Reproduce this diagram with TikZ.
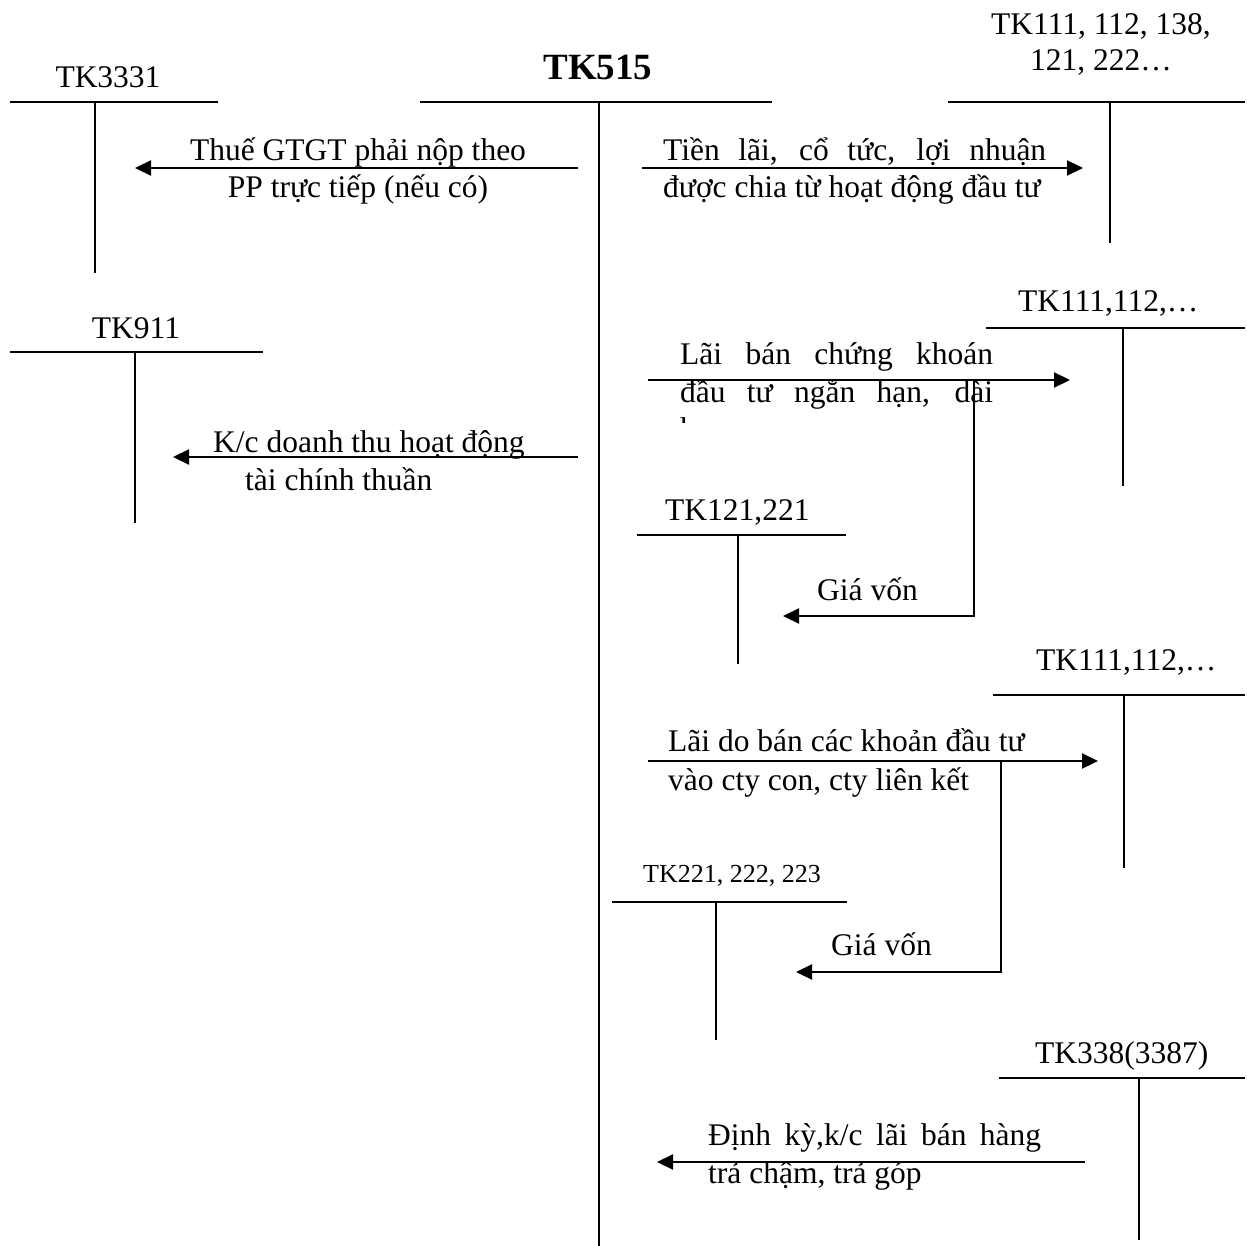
\documentclass[tikz,border=0pt]{standalone}
\usepackage{fontspec}
\setmainfont{Liberation Serif}
\usetikzlibrary{arrows.meta}
\tikzset{
  lbl/.style={inner sep=0pt, anchor=base, font=\fontsize{31.5}{36}\selectfont},
  lblw/.style={inner sep=0pt, anchor=base west, font=\fontsize{31.5}{36}\selectfont},
  small/.style={inner sep=0pt, anchor=base west, font=\fontsize{26}{30}\selectfont},
  tline/.style={line width=1.6pt},
  fline/.style={line width=2.2pt},
  flow/.style={line width=2.2pt, -{Triangle[length=16pt,width=15pt]}}
}
\begin{document}
\begin{tikzpicture}[x=1pt,y=-1pt]
\useasboundingbox[fill=white] (0,0) rectangle (1247,1246);

% ---- TK3331
\node[lbl] (n3331) at (108,88) {TK3331};
\coordinate (a3331L) at (10,102); \coordinate (a3331R) at (218,102);
\coordinate (a3331T) at (95,102); \coordinate (a3331B) at (95,273);
\draw[tline] (a3331L) -- (a3331R); \draw[tline] (a3331T) -- (a3331B);

% ---- TK515
\node[inner sep=0pt, anchor=base, font=\bfseries\fontsize{37}{40}\selectfont] (n515) at (598,80) {TK515};
\coordinate (a515L) at (420,102); \coordinate (a515R) at (772,102);
\coordinate (a515T) at (599,102); \coordinate (a515B) at (599,1246);
\draw[tline] (a515L) -- (a515R); \draw[tline] (a515T) -- (a515B);

% ---- TK111, 112, 138, 121, 222...
\node[lbl] (n111a) at (1101,35) {TK111, 112, 138,};
\node[lbl] (n111b) at (1101,71) {121, 222…};
\coordinate (a111L) at (948,102); \coordinate (a111R) at (1245,102);
\coordinate (a111T) at (1110,102); \coordinate (a111B) at (1110,243);
\draw[tline] (a111L) -- (a111R); \draw[tline] (a111T) -- (a111B);

% ---- TK911
\node[lbl] (n911) at (136,338) {TK911};
\coordinate (a911L) at (10,352); \coordinate (a911R) at (263,352);
\coordinate (a911T) at (135,352); \coordinate (a911B) at (135,523);
\draw[tline] (a911L) -- (a911R); \draw[tline] (a911T) -- (a911B);

% ---- TK111,112,... (2nd)
\node[lblw] (n111c) at (1018,312) {TK111,112,…};
\coordinate (b111L) at (986,328); \coordinate (b111R) at (1245,328);
\coordinate (b111T) at (1123,328); \coordinate (b111B) at (1123,486);
\draw[tline] (b111L) -- (b111R); \draw[tline] (b111T) -- (b111B);

% ---- TK121,221
\node[lblw] (n121) at (665,520) {TK121,221};
\coordinate (a121L) at (637,535); \coordinate (a121R) at (846,535);
\coordinate (a121T) at (738,535); \coordinate (a121B) at (738,664);
\draw[tline] (a121L) -- (a121R); \draw[tline] (a121T) -- (a121B);

% ---- TK111,112,... (3rd)
\node[lblw] (n111d) at (1036,670) {TK111,112,…};
\coordinate (c111L) at (993,695); \coordinate (c111R) at (1245,695);
\coordinate (c111T) at (1124,695); \coordinate (c111B) at (1124,868);
\draw[tline] (c111L) -- (c111R); \draw[tline] (c111T) -- (c111B);

% ---- TK221, 222, 223
\node[small] (n221) at (643,882) {TK221, 222, 223};
\coordinate (a221L) at (612,902); \coordinate (a221R) at (847,902);
\coordinate (a221T) at (716,902); \coordinate (a221B) at (716,1040);
\draw[tline] (a221L) -- (a221R); \draw[tline] (a221T) -- (a221B);

% ---- TK338(3387)
\node[lblw] (n338) at (1035,1063) {TK338(3387)};
\coordinate (a338L) at (999,1078); \coordinate (a338R) at (1245,1078);
\coordinate (a338T) at (1139,1078); \coordinate (a338B) at (1139,1240);
\draw[tline] (a338L) -- (a338R); \draw[tline] (a338T) -- (a338B);

% ---- Flow 1: 515 -> 3331
\node[lbl] (t1a) at (358,161) {Thuế GTGT phải nộp theo};
\node[lbl] (t1b) at (358,198) {PP trực tiếp (nếu có)};
\coordinate (f1s) at (578,168); \coordinate (f1e) at (135,168);
\draw[flow] (f1s) -- (f1e);

% ---- Flow 2: 515 -> 111
\node[lblw] (t2a) at (663,161) {\makebox[383pt][s]{Tiền lãi, cổ tức, lợi nhuận}};
\node[lblw] (t2b) at (663,198) {được chia từ hoạt động đầu tư};
\coordinate (f2s) at (642,168); \coordinate (f2e) at (1083,168);
\draw[flow] (f2s) -- (f2e);

% ---- Flow 3: 515 -> 911
\node[lblw] (t3a) at (213,452) {K/c doanh thu hoạt động};
\node[lblw] (t3b) at (245,490) {tài chính thuần};
\coordinate (f3s) at (578,457); \coordinate (f3e) at (173,457);
\draw[flow] (f3s) -- (f3e);

% ---- Flow 4: 515 -> 111 (2nd), cost -> 121
\node[lblw] (t4a) at (680,365) {\makebox[313pt][s]{Lãi bán chứng khoán}};
\node[lblw] (t4b) at (680,402) {\makebox[313pt][s]{đầu tư ngắn hạn, dài}};
\begin{scope}
  \clip (670,410) rectangle (720,422);
  \node[lblw] (t4c) at (680,439) {hạn};
\end{scope}
\coordinate (f4s) at (648,380); \coordinate (f4e) at (1070,380);
\draw[flow] (f4s) -- (f4e);
\node[lblw] (g4) at (817,600) {Giá vốn};
\coordinate (v4t) at (974,380); \coordinate (v4e) at (783,616);
\draw[flow] (v4t) |- (v4e);

% ---- Flow 5: 515 -> 111 (3rd), cost -> 221
\node[lblw] (t5a) at (668,751) {Lãi do bán các khoản đầu tư};
\node[lblw] (t5b) at (668,790) {vào cty con, cty liên kết};
\coordinate (f5s) at (648,761); \coordinate (f5e) at (1098,761);
\draw[flow] (f5s) -- (f5e);
\node[lblw] (g5) at (831,955) {Giá vốn};
\coordinate (v5t) at (1001,761); \coordinate (v5e) at (796,972);
\draw[flow] (v5t) |- (v5e);

% ---- Flow 6: 338 -> 515
\node[lblw] (t6a) at (708,1145) {\makebox[333pt][s]{Định kỳ,k/c lãi bán hàng}};
\node[lblw] (t6b) at (708,1183) {trả chậm, trả góp};
\coordinate (f6s) at (1085,1162); \coordinate (f6e) at (657,1162);
\draw[flow] (f6s) -- (f6e);
\end{tikzpicture}
\end{document}
